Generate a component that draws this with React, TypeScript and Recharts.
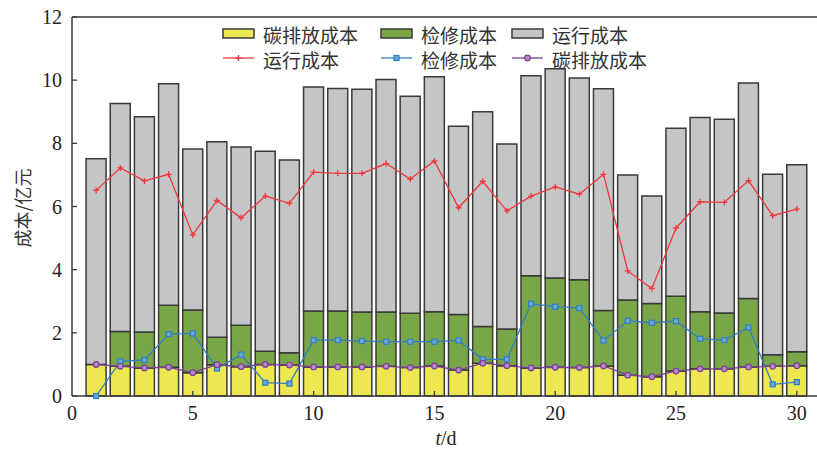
import React from "react"
import { ComposedChart, Bar, Line, XAxis, YAxis, Legend, ReferenceLine } from "recharts"

// daily costs, 亿元
const days = Array.from({ length: 30 }, (_, i) => i + 1)
const carbonCost = [1.0, 0.94, 0.89, 0.91, 0.74, 0.99, 0.93, 1.0, 0.98, 0.92, 0.92, 0.92, 0.94, 0.9, 0.95, 0.82, 1.04, 0.96, 0.89, 0.91, 0.9, 0.95, 0.66, 0.61, 0.79, 0.86, 0.86, 0.92, 0.94, 0.96]
const maintCost = [0.0, 1.1, 1.14, 1.96, 1.98, 0.87, 1.31, 0.42, 0.39, 1.77, 1.77, 1.74, 1.72, 1.72, 1.72, 1.76, 1.16, 1.16, 2.92, 2.83, 2.78, 1.76, 2.38, 2.32, 2.37, 1.81, 1.77, 2.17, 0.37, 0.44]
const opCost = [6.51, 7.22, 6.81, 7.02, 5.1, 6.19, 5.64, 6.33, 6.1, 7.09, 7.05, 7.05, 7.36, 6.87, 7.44, 5.96, 6.8, 5.86, 6.33, 6.62, 6.39, 7.02, 3.96, 3.4, 5.32, 6.15, 6.13, 6.82, 5.71, 5.92]

const xTicks = [0, 5, 10, 15, 20, 25, 30]
const yTicks = [0, 2, 4, 6, 8, 10, 12]

const data = days.map((d, i) => ({
  day: d,
  carbon: carbonCost[i],
  maint: maintCost[i],
  op: opCost[i],
}))

const YELLOW = "#ede851"
const GREEN = "#79a748"
const GRAY = "#c4c5c7"
const EDGE = "#3a3a3a"
const RED = "#f0393c"
const BLUE = "#2f7fc1"
const PURPLE = "#7e3f98"

const serif = "'Liberation Serif', 'Times New Roman', serif"
const cjk = "'Noto Sans CJK SC', sans-serif"

const YTick = (props: any) => {
  const { x, y, payload } = props
  const ax = x + 8
  return (
    <g>
      <line x1={ax} x2={ax + 5} y1={y} y2={y} stroke={EDGE} strokeWidth={1.3} />
      <text x={ax - 10} y={y} textAnchor="end" dominantBaseline="central" fontFamily={serif} fontSize={20} fill="#222">
        {payload.value}
      </text>
    </g>
  )
}

const XTick = (props: any) => {
  const { x, y, payload } = props
  const ay = y - 8
  return (
    <g>
      {payload.value !== 0 && <line x1={x} x2={x} y1={ay} y2={ay - 5} stroke={EDGE} strokeWidth={1.3} />}
      <text x={x} y={ay + 24} textAnchor="middle" fontFamily={serif} fontSize={20} fill="#222">
        {payload.value}
      </text>
    </g>
  )
}

const PlusDot = (props: any) => {
  const { cx, cy } = props
  return <path d={`M${cx - 3},${cy}H${cx + 3}M${cx},${cy - 3}V${cy + 3}`} stroke={RED} strokeWidth={1.3} />
}

const SquareDot = (props: any) => {
  const { cx, cy } = props
  return <rect x={cx - 2.5} y={cy - 2.5} width={5} height={5} fill="#6aa6d8" stroke={BLUE} strokeWidth={1.2} />
}

const CircleDot = (props: any) => {
  const { cx, cy } = props
  return <circle cx={cx} cy={cy} r={2.8} fill="#b48ac6" stroke={PURPLE} strokeWidth={1.2} />
}

const barItems = [
  { name: "碳排放成本", color: YELLOW },
  { name: "检修成本", color: GREEN },
  { name: "运行成本", color: GRAY },
]
const lineItems = [
  { name: "运行成本", color: RED, Dot: PlusDot },
  { name: "检修成本", color: BLUE, Dot: SquareDot },
  { name: "碳排放成本", color: PURPLE, Dot: CircleDot },
]
const colX = [8, 166, 297]

const LegendBox = () => (
  <svg width={470} height={56}>
    {barItems.map((it, i) => (
      <g key={"b" + i}>
        <rect x={colX[i]} y={12} width={31} height={9} fill={it.color} stroke={EDGE} strokeWidth={1.5} />
        <text x={colX[i] + 40} y={17} dominantBaseline="central" fontFamily={cjk} fontSize={19} fill="#333">
          {it.name}
        </text>
      </g>
    ))}
    {lineItems.map((it, i) => (
      <g key={"l" + i}>
        <line x1={colX[i]} x2={colX[i] + 31} y1={41} y2={41} stroke={it.color} strokeWidth={1.3} />
        <it.Dot cx={colX[i] + 15.5} cy={41} />
        <text x={colX[i] + 40} y={42} dominantBaseline="central" fontFamily={cjk} fontSize={19} fill="#333">
          {it.name}
        </text>
      </g>
    ))}
  </svg>
)

export default function App() {
  return (
    <div style={{ position: "absolute", left: 0, top: 0, width: 817, height: 450, overflow: "hidden", background: "#fff" }}>
      <ComposedChart
        width={830}
        height={450}
        data={data}
        margin={{ top: 17, right: 9, bottom: 23, left: 12 }}
        barGap={0}
      >
        <XAxis
          dataKey="day"
          type="number"
          domain={[0, 31]}
          ticks={xTicks}
          tickSize={0}
          tickMargin={8}
          height={31}
          stroke={EDGE}
          strokeWidth={1.5}
          tick={<XTick />}
          label={(p: any) => (
            <text x={446} y={445} textAnchor="middle" fontFamily={serif} fontSize={20} fill="#222">
              <tspan fontStyle="italic">t</tspan>/d
            </text>
          )}
        />
        <YAxis
          type="number"
          domain={[0, 12]}
          ticks={yTicks}
          width={60}
          tickSize={0}
          tickMargin={8}
          stroke={EDGE}
          strokeWidth={1.5}
          tick={<YTick />}
          label={(p: any) => (
            <text
              x={22}
              y={208}
              textAnchor="middle"
              dominantBaseline="central"
              transform="rotate(-90 22 208)"
              fontFamily={cjk}
              fontSize={18}
              fill="#333"
            >
              成本/亿元
            </text>
          )}
        />
        <ReferenceLine y={12} stroke={EDGE} strokeWidth={1.5} />
        <Legend
          layout="horizontal"
          verticalAlign="middle"
          align="center"
          wrapperStyle={{ left: 215, top: 17, width: 470, height: 56 }}
          content={() => <LegendBox />}
        />
        <Bar dataKey="carbon" stackId="a" barSize={20} fill={YELLOW} stroke={EDGE} strokeWidth={1.5} isAnimationActive={false} />
        <Bar dataKey="maint" stackId="a" barSize={20} fill={GREEN} stroke={EDGE} strokeWidth={1.5} isAnimationActive={false} />
        <Bar dataKey="op" stackId="a" barSize={20} fill={GRAY} stroke={EDGE} strokeWidth={1.5} isAnimationActive={false} />
        <Line dataKey="op" type="linear" stroke={RED} strokeWidth={1.3} dot={<PlusDot />} activeDot={false} isAnimationActive={false} />
        <Line dataKey="maint" type="linear" stroke={BLUE} strokeWidth={1.3} dot={<SquareDot />} activeDot={false} isAnimationActive={false} />
        <Line dataKey="carbon" type="linear" stroke={PURPLE} strokeWidth={1.3} dot={<CircleDot />} activeDot={false} isAnimationActive={false} />
      </ComposedChart>
    </div>
  )
}
